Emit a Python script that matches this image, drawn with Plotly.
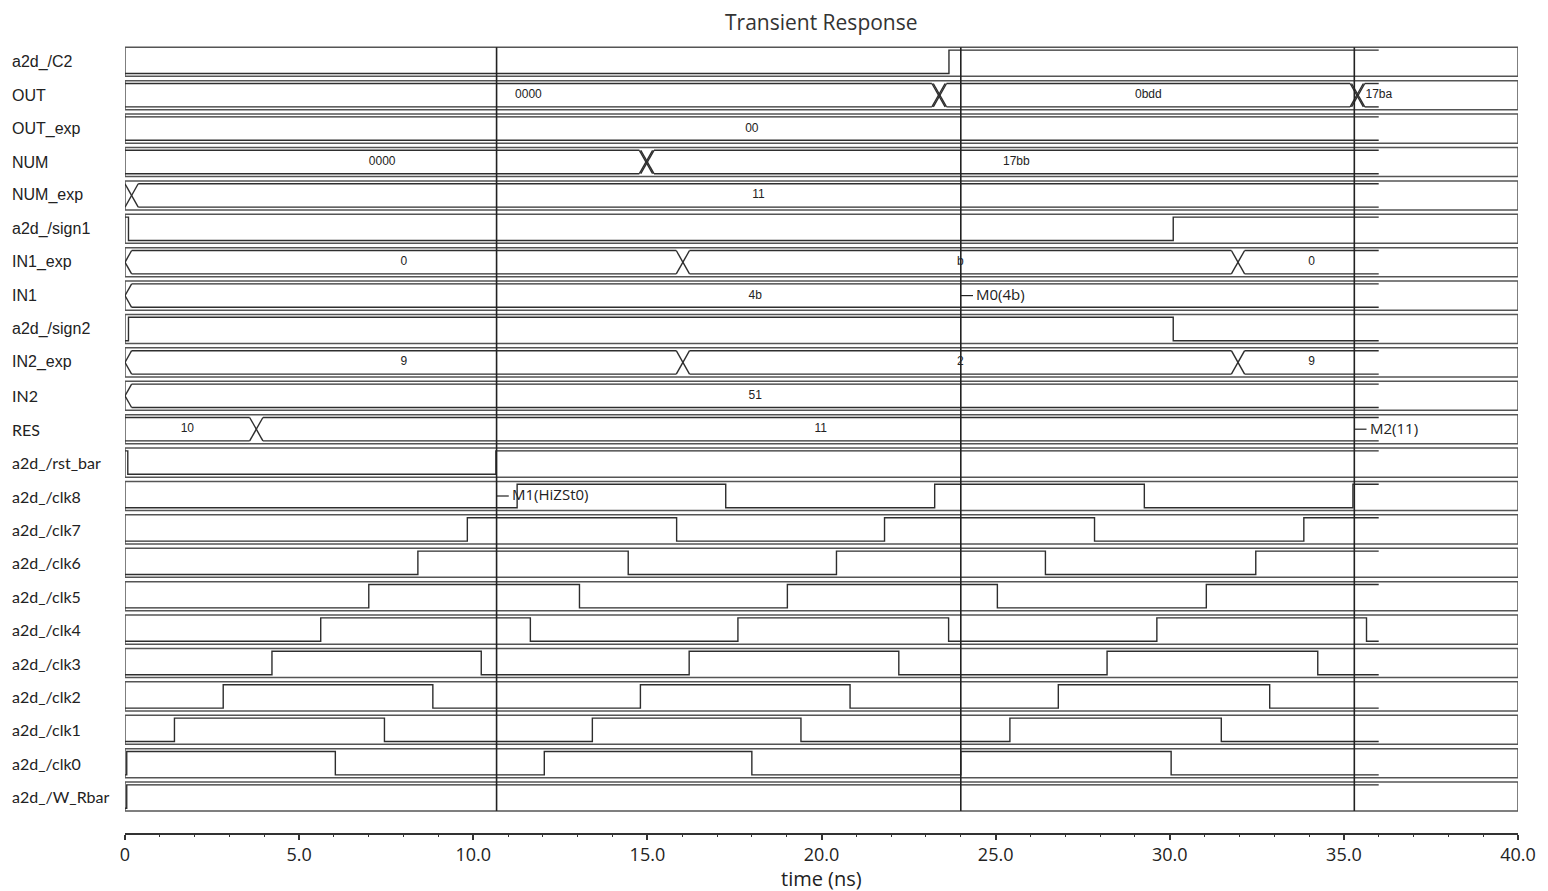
import plotly.graph_objects as go

# ---------------- data ----------------
rows = ["a2d_/C2", "OUT", "OUT_exp", "NUM", "NUM_exp", "a2d_/sign1", "IN1_exp", "IN1",
        "a2d_/sign2", "IN2_exp", "IN2", "RES", "a2d_/rst_bar", "a2d_/clk8", "a2d_/clk7",
        "a2d_/clk6", "a2d_/clk5", "a2d_/clk4", "a2d_/clk3", "a2d_/clk2", "a2d_/clk1",
        "a2d_/clk0", "a2d_/W_Rbar"]

sim_end = 36.0            # ns, end of simulated waveforms
axis_end = 40.0

# bit signals: initial level + toggle times (ns)
c2_init, c2_edges = 0, [23.66]
sign1_init, sign1_edges = 1, [0.1, 30.1]
sign2_init, sign2_edges = 0, [0.1, 30.1]
rst_init, rst_edges = 1, [0.08, 10.65]
clk8_init, clk8_edges = 0, [11.26, 17.25, 23.25, 29.27, 35.26]
clk7_init, clk7_edges = 0, [9.83, 15.84, 21.81, 27.84, 33.85]
clk6_init, clk6_edges = 0, [8.41, 14.45, 20.43, 26.43, 32.47]
clk5_init, clk5_edges = 0, [7.0, 13.05, 19.02, 25.05, 31.05]
clk4_init, clk4_edges = 0, [5.62, 11.64, 17.6, 23.65, 29.63, 35.65]
clk3_init, clk3_edges = 0, [4.22, 10.23, 16.2, 22.22, 28.2, 34.25]
clk2_init, clk2_edges = 0, [2.82, 8.84, 14.8, 20.82, 26.8, 32.87]
clk1_init, clk1_edges = 0, [1.42, 7.45, 13.42, 19.41, 25.41, 31.48]
clk0_init, clk0_edges = 0, [0.05, 6.04, 12.04, 18.0, 24.0, 30.04]
wrbar_init, wrbar_edges = 0, [0.05]

# bus signals: transition times (ns) + values (len = transitions + 1)
out_times, out_values = [23.17, 23.21, 35.18, 35.22], ["0000", "", "0bdd", "", "17ba"]
outexp_times, outexp_values = [], ["00"]
num_times, num_values = [14.77, 14.81], ["0000", "", "17bb"]
numexp_times, numexp_values = [0.0], [None, "11"]
in1exp_times, in1exp_values = [-0.19, 15.83, 31.77], [None, "0", "b", "0"]
in1_times, in1_values = [-0.19], [None, "4b"]
in2exp_times, in2exp_values = [-0.19, 15.83, 31.77], [None, "9", "2", "9"]
in2_times, in2_values = [-0.19], [None, "51"]
res_times, res_values = [3.58], ["10", "11"]

cursor_times = [10.67, 24.0, 35.3]
marker_labels = ["M0(4b)", "M1(HiZSt0)", "M2(11)"]
marker_times = [24.0, 10.67, 35.3]
marker_rows = ["IN1", "a2d_/clk8", "RES"]

tick_vals = [0, 5, 10, 15, 20, 25, 30, 35, 40]
tick_text = ["0", "5.0", "10.0", "15.0", "20.0", "25.0", "30.0", "35.0", "40.0"]

bit_rows = {
    "a2d_/C2": (c2_init, c2_edges), "a2d_/sign1": (sign1_init, sign1_edges),
    "a2d_/sign2": (sign2_init, sign2_edges), "a2d_/rst_bar": (rst_init, rst_edges),
    "a2d_/clk8": (clk8_init, clk8_edges), "a2d_/clk7": (clk7_init, clk7_edges),
    "a2d_/clk6": (clk6_init, clk6_edges), "a2d_/clk5": (clk5_init, clk5_edges),
    "a2d_/clk4": (clk4_init, clk4_edges), "a2d_/clk3": (clk3_init, clk3_edges),
    "a2d_/clk2": (clk2_init, clk2_edges), "a2d_/clk1": (clk1_init, clk1_edges),
    "a2d_/clk0": (clk0_init, clk0_edges), "a2d_/W_Rbar": (wrbar_init, wrbar_edges),
}
bus_rows = {
    "OUT": (out_times, out_values), "OUT_exp": (outexp_times, outexp_values),
    "NUM": (num_times, num_values), "NUM_exp": (numexp_times, numexp_values),
    "IN1_exp": (in1exp_times, in1exp_values), "IN1": (in1_times, in1_values),
    "IN2_exp": (in2exp_times, in2exp_values), "IN2": (in2_times, in2_values),
    "RES": (res_times, res_values),
}

# ---------------- style ----------------
LEVEL = 0.35      # waveform high/low offset from row centre (row units)
BOX = 0.435       # half height of row box
XW = 0.38         # width of bus transition "X" (ns)
WAVE_COLOR = "#2e2e2e"
BOX_COLOR = "#555555"
arial_rows = set(rows[:10])
PAGE_OFFSET = 8   # default body margin of the html page

fig = go.Figure()
shapes = []
annotations = []

for i, name in enumerate(rows):
    shapes.append(dict(type="rect", xref="x", yref="y", x0=0, x1=axis_end,
                       y0=i - BOX, y1=i + BOX, line=dict(color=BOX_COLOR, width=1.5),
                       layer="below"))
    fam = "Liberation Sans" if name in arial_rows else "Lato"
    annotations.append(dict(text=name, xref="paper", yref="y", x=0, y=i, xshift=-115,
                            xanchor="left", yanchor="middle", showarrow=False,
                            font=dict(family=fam, size=16, color="#222")))

    hi, lo = i - LEVEL, i + LEVEL
    xs, ys = [], []
    if name in bit_rows:
        init, edges = bit_rows[name]
        lvl = init
        xs.append(0); ys.append(hi if lvl else lo)
        for t in edges:
            xs.append(t); ys.append(hi if lvl else lo)
            lvl = 1 - lvl
            xs.append(t); ys.append(hi if lvl else lo)
        xs.append(sim_end); ys.append(hi if lvl else lo)
    else:
        times, values = bus_rows[name]
        bounds = [None] + times + [None]
        lx, ly, lt, pos = [], [], [], []
        for k, v in enumerate(values):
            a = 0.0 if bounds[k] is None else bounds[k] + XW
            b = sim_end if bounds[k + 1] is None else bounds[k + 1]
            a = max(a, 0.0)
            if v is None or b <= a:
                continue
            xs += [a, b, None, a, b, None]
            ys += [hi, hi, None, lo, lo, None]
            if v:
                if b - a < 1.5:
                    lx.append(a + 0.02); pos.append("middle right")
                else:
                    lx.append((a + b) / 2); pos.append("middle center")
                ly.append(i); lt.append(v)
        for t in times:
            xs += [t, t + XW, None, t, t + XW, None]
            ys += [hi, lo, None, lo, hi, None]
        if lt:
            fig.add_trace(go.Scatter(x=lx, y=ly, text=lt, mode="text", textposition=pos,
                                     textfont=dict(family="Liberation Sans", size=12, color="#222"),
                                     hoverinfo="skip", showlegend=False, cliponaxis=False))
    fig.add_trace(go.Scatter(x=xs, y=ys, mode="lines", line=dict(color=WAVE_COLOR, width=1.4),
                             hoverinfo="skip", showlegend=False))

# cursors
for t in cursor_times:
    shapes.append(dict(type="line", xref="x", yref="y", x0=t, x1=t, y0=-BOX, y1=len(rows) - 1 + BOX,
                       line=dict(color="#222", width=1.6)))

# markers
for lab, t, r in zip(marker_labels, marker_times, marker_rows):
    ri = rows.index(r)
    shapes.append(dict(type="line", xref="x", yref="y", x0=t, x1=t + 0.35, y0=ri, y1=ri,
                       line=dict(color="#222", width=1.2)))
    annotations.append(dict(text=lab, xref="x", yref="y", x=t + 0.38, y=ri - 0.05, xanchor="left",
                            yanchor="middle", showarrow=False,
                            font=dict(family="Open Sans", size=15, color="#222")))

annotations.append(dict(text="time (ns)", xref="paper", yref="paper", x=0.5, y=-(878 - 833) / 793,
                        xanchor="center", yanchor="middle", showarrow=False,
                        font=dict(family="Open Sans", size=20, color="#222")))
# title as an annotation placed just above the plot area
annotations.append(dict(text="Transient Response", xref="paper", yref="paper", x=0.5,
                        y=1 + (40 - 22) / 793, xanchor="center", yanchor="middle", showarrow=False,
                        font=dict(family="Open Sans", size=21, color="#333")))

W, H = 1548 - PAGE_OFFSET, 891 - PAGE_OFFSET
fig.update_layout(
    width=W, height=H,
    margin=dict(l=125 - PAGE_OFFSET, r=28, t=40 - PAGE_OFFSET, b=58),
    paper_bgcolor="white", plot_bgcolor="white",
    shapes=shapes, annotations=annotations,
    xaxis=dict(range=[0, axis_end], showgrid=False, zeroline=False, showline=True,
               linecolor="#333", linewidth=1.5, ticks="outside", ticklen=5, tickwidth=1.5,
               tickcolor="#333", tickvals=tick_vals, ticktext=tick_text,
               tickfont=dict(family="Open Sans", size=18, color="#222"),
               minor=dict(ticks="outside", ticklen=2.5, dtick=1, tickcolor="#333", tickwidth=1.2)),
    yaxis=dict(range=[23.09, -0.653], visible=False, showgrid=False, zeroline=False),
)

fig.write_html("out.html")
